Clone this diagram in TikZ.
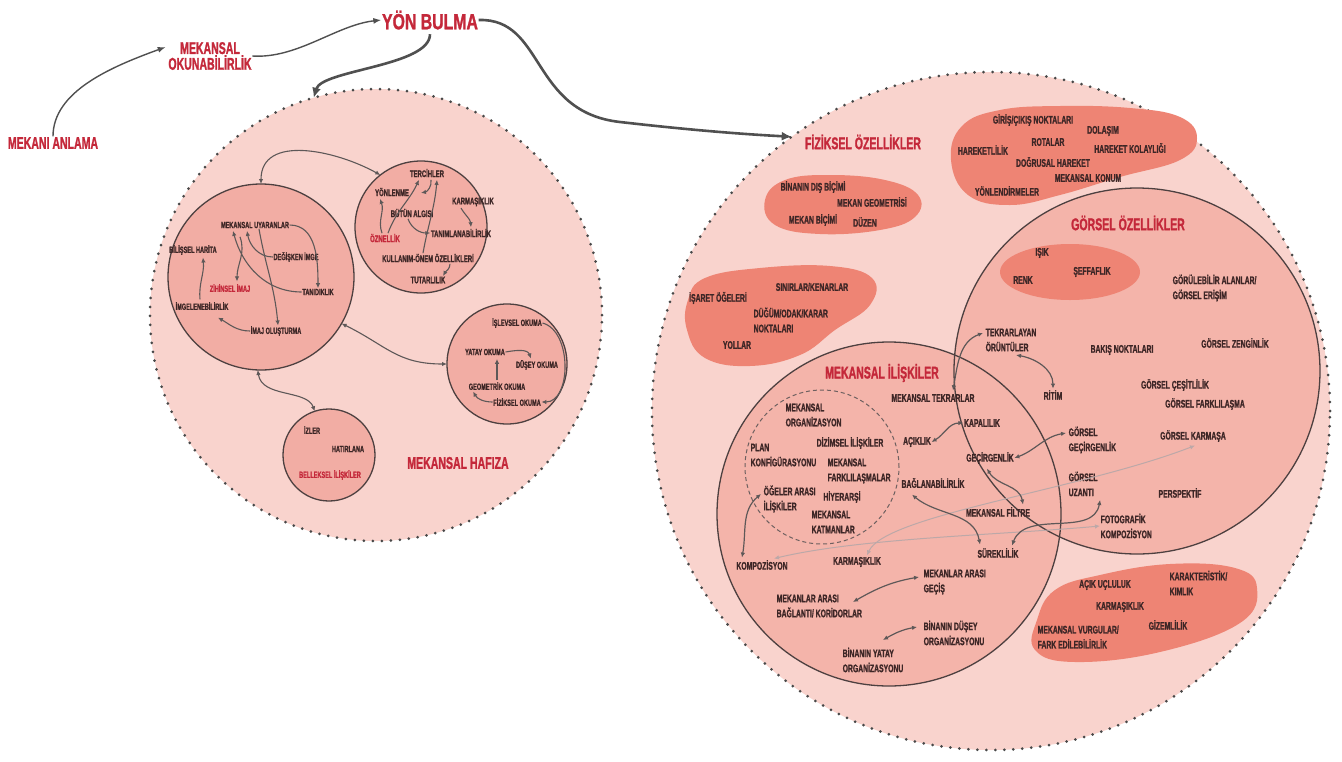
\documentclass[tikz,border=0pt]{standalone}
\usepackage{fontspec}
\newfontfamily\cf{Liberation Sans Bold}[FakeStretch=0.62, FakeBold=1.2]
\newfontfamily\tf{Liberation Sans Bold}[FakeStretch=0.72, FakeBold=1.2]
\usetikzlibrary{arrows.meta,calc}
\definecolor{bgp}{RGB}{249,211,205}
\definecolor{subp}{RGB}{242,173,164}
\definecolor{gcp}{RGB}{244,180,170}
\definecolor{blobc}{RGB}{238,132,116}
\definecolor{dotc}{RGB}{72,72,72}
\definecolor{bordc}{RGB}{77,64,64}
\definecolor{txt}{RGB}{61,38,38}
\definecolor{redt}{RGB}{196,40,58}
\definecolor{arr}{RGB}{94,88,88}
\definecolor{lightarr}{RGB}{188,168,168}
\definecolor{bigarr}{RGB}{80,80,80}
\definecolor{dashc}{RGB}{110,96,96}
\tikzset{
  t/.style={font=\cf\fontsize{11}{15}\selectfont, text=txt, inner sep=0.5pt, align=left},
  ts/.style={t, font=\cf\fontsize{9}{11}\selectfont},
  tsr/.style={ts, text=redt},
  tm/.style={t, font=\cf\fontsize{9.6}{11}\selectfont},
  tmr/.style={tm, text=redt},
  ttl/.style={font=\cf\fontsize{17}{14}\selectfont, text=redt, inner sep=0.5pt, align=center},
  dotcirc/.style={circle, inner sep=0pt, outer sep=0pt, fill=bgp, draw=dotc, line width=3pt, dash pattern=on 0pt off 9pt, line cap=round},
  subcirc/.style={circle, inner sep=0pt, outer sep=0pt, fill=subp, draw=bordc, line width=1.3pt},
  tipA/.tip={Latex[length=5pt,width=4.5pt]},
  a/.style={draw=arr, line width=1.1pt, -tipA},
  aa/.style={draw=arr, line width=1.2pt, tipA-tipA},
  la/.style={draw=lightarr, line width=1pt, tipA-tipA},
  a1/.style={draw=bigarr, line width=1.4pt, -{Latex[length=8pt,width=6pt]}},
  big/.style={draw=bigarr, line width=2.6pt, -{Latex[length=10pt,width=9pt]}},
  blob/.style={fill=blobc},
}
\begin{document}
\begin{tikzpicture}[x=1pt,y=-1pt]
\useasboundingbox (0,0) rectangle (1342,761);
\fill[white] (0,0) rectangle (1342,761);

% big dotted circles
\node[dotcirc, minimum size=452pt] (L) at (376,315) {};
\node[dotcirc, minimum size=678pt] (R) at (991,411) {};

% blobs of physical properties
\fill[blob] plot[smooth cycle, tension=0.7] coordinates {(951,160) (962,126) (1000,110) (1060,106) (1130,108) (1180,117) (1197,138) (1180,160) (1120,177) (1060,195) (1010,205) (968,195)};
\fill[blob] plot[smooth cycle, tension=0.7] coordinates {(765,200) (785,180) (830,175) (885,180) (918,195) (915,217) (880,230) (820,234) (775,225)};
\fill[blob] plot[smooth cycle, tension=0.7] coordinates {(688,300) (705,278) (760,268) (830,266) (872,278) (870,305) (835,330) (800,355) (750,366) (705,358) (687,330)};

% visual / spatial circles
\node[circle, inner sep=0pt, outer sep=0pt, minimum size=366pt, fill=gcp] (G) at (1137,371) {};
\node[circle, inner sep=0pt, outer sep=0pt, minimum size=344pt, fill=gcp] (M) at (889,514) {};
\fill[blob] (1070,272) ellipse [x radius=70, y radius=28];
\fill[blob] plot[smooth cycle, tension=0.7] coordinates {(1037,620) (1055,590) (1100,575) (1170,564) (1235,568) (1257,588) (1240,623) (1160,652) (1075,662) (1035,650)};
\draw[bordc, line width=1.3pt] (G.center) circle (183pt);
\draw[bordc, line width=1.3pt] (M.center) circle (172pt);
\node[circle, inner sep=0pt, minimum size=154pt, draw=dashc, line width=1pt, dash pattern=on 4pt off 3pt] (dc) at (822,467) {};

% left sub circles
\node[subcirc, minimum size=186pt] (c1) at (261,277) {};
\node[subcirc, minimum size=132pt] (c2) at (421,227) {};
\node[subcirc, minimum size=120pt] (c3) at (507,364) {};
\node[subcirc, minimum size=92pt] (c4) at (329,455) {};

% top titles
\node[ttl] (man) at (53,143) {MEKANI ANLAMA};
\node[ttl] (mok) at (210,56) {MEKANSAL\\OKUNABİLİRLİK};
\node[ttl, font=\tf\fontsize{22}{22}\selectfont] (yb) at (430,20) {YÖN BULMA};
\draw[a1] (man.north) .. controls +(0,-45) and +(-55,20) .. ($(mok.west)+(-2,-9)$);
\draw[a1] (mok.east) .. controls +(45,3) and +(-45,5) .. (yb.west);
\draw[big] ($(yb.south)+(0,4)$) .. controls +(0,32) and +(8,-28) .. (L.106);
\draw[big] (yb.east) .. controls (545,18) and (530,112) .. (620,122) .. controls (690,130) and (740,134) .. (R.126);

% circle 1
\node[ts] (mu) at (255,225) {MEKANSAL UYARANLAR};
\node[ts] (bh) at (193,250) {BİLİŞSEL HARİTA};
\node[ts] (di) at (296,257) {DEĞİŞKEN İMGE};
\node[tsr] (zi) at (230,288) {ZİHİNSEL İMAJ};
\node[ts] (ta) at (318,292) {TANIDIKLIK};
\node[ts] (im) at (202,306) {İMGELENEBİLİRLİK};
\node[ts] (io) at (276,331) {İMAJ OLUŞTURMA};
\draw[a] (mu.east) to[out=0,in=90] (ta.north);
\draw[a] (di.west) to[out=180,in=-80] ($(mu.south)+(-8,2)$);
\draw[a] ($(mu.south)+(4,0)$) to[out=-80,in=95] ($(io.north)+(2,0)$);
\draw[a] (ta.west) to[out=180,in=-75] ($(mu.south)+(-22,2)$);
\draw[a] ($(mu.south)+(-15,8)$) to[out=-70,in=90] ($(zi.north)+(7,-2)$);
\draw[a] ($(im.north)+(-2,-2)$) to[out=95,in=-85] ($(bh.south)+(10,2)$);
\draw[a] (io.west) to[out=180,in=-30] ($(im.south)+(16,7)$);

% circle 2
\node[tm] (te) at (427,173) {TERCİHLER};
\node[tm] (yo) at (392,192) {YÖNLENME};
\node[tm] (ka) at (473,202) {KARMAŞIKLIK};
\node[tm] (bu) at (412,213) {BÜTÜN ALGISI};
\node[tmr] (oz) at (385,238) {ÖZNELLİK};
\node[tm] (tn) at (461,233) {TANIMLANABİLİRLİK};
\node[tm] (ku) at (428,258) {KULLANIM-ÖNEM ÖZELLİKLERİ};
\node[tm] (tu) at (428,280) {TUTARLILIK};
\draw[a] ($(oz.north)+(-3,0)$) to[out=110,in=-70] ($(yo.south)+(-12,2)$);
\draw[a] ($(oz.north)+(3,0)$) to[out=70,in=-115] ($(te.south)+(-8,2)$);
\draw[a] ($(te.south)+(4,2)$) to[out=-80,in=10] ($(te.south)+(-6,15)$);
\draw[a] ($(ku.north)+(-5,0)$) to[out=80,in=-95] ($(te.south)+(10,2)$);
\draw[a] ($(bu.south)+(-4,1)$) to[out=-70,in=180] (tn.west);
\draw[a] ($(ka.south)+(-12,1)$) to[out=-60,in=95] ($(tn.north)+(10,-1)$);
\draw[a] ($(ku.south)+(22,1)$) to[out=-90,in=60] ($(tu.north)+(15,0)$);
\draw[aa, line width=1.1pt] (c1.north) .. controls +(0,-50) and +(-45,-25) .. (c2.128);

% circle 3
\node[ts] (il) at (517,323) {İŞLEVSEL OKUMA};
\node[ts] (ya) at (485,352) {YATAY OKUMA};
\node[ts] (du) at (537,365) {DÜŞEY OKUMA};
\node[ts] (ge) at (497,386) {GEOMETRİK OKUMA};
\node[ts] (fi) at (517,402) {FİZİKSEL OKUMA};
\draw[a] (ya.east) to[out=10,in=110] ($(du.north)+(-6,-1)$);
\draw[a] ($(ge.north)+(0,-1)$) -- ($(ya.south)+(12,3)$);
\draw[a] (fi.west) to[out=180,in=-60] ($(ge.south west)+(5,1)$);
\draw[a] (il.east) .. controls +(30,8) and +(30,0) .. (fi.east);
\draw[aa, line width=1.1pt] (c1.-30) .. controls +(45,22) and +(-50,0) .. (c3.west);

% circle 4
\node[ts] (iz) at (312,430) {İZLER};
\node[ts] (ha) at (348,449) {HATIRLANA};
\node[tsr] (be) at (330,475) {BELLEKSEL İLİŞKİLER};
\draw[aa, line width=1.1pt] (c1.-92) .. controls +(4,28) and +(-8,-22) .. (c4.108);
\node[ttl] (mh) at (458,463) {MEKANSAL HAFIZA};

% physical properties
\node[ttl] (fo) at (863,142) {FİZİKSEL ÖZELLİKLER};
\node[t] (gc) at (1033,120) {GİRİŞ/ÇIKIŞ NOKTALARI};
\node[t] (dl) at (1103,131) {DOLAŞIM};
\node[t] (ro) at (1048,142) {ROTALAR};
\node[t] (hk) at (983,150) {HAREKETLİLİK};
\node[t] (hko) at (1130,148) {HAREKET KOLAYLIĞI};
\node[t] (dh) at (1053,162) {DOĞRUSAL HAREKET};
\node[t] (mk) at (1088,178) {MEKANSAL KONUM};
\node[t] (yl) at (1007,191) {YÖNLENDİRMELER};
\node[t] (bd) at (813,187) {BİNANIN DIŞ BİÇİMİ};
\node[t] (mg) at (872,202) {MEKAN GEOMETRİSİ};
\node[t] (mb) at (813,220) {MEKAN BİÇİMİ};
\node[t] (dz) at (865,222) {DÜZEN};
\node[t] (sk) at (812,287) {SINIRLAR/KENARLAR};
\node[t] (io3) at (718,298) {İŞARET ÖĞELERİ};
\node[t, anchor=west] (dok) at (753,320) {DÜĞÜM/ODAK/KARAR\\NOKTALARI};
\node[t] (yol) at (737,345) {YOLLAR};

% visual properties
\node[ttl] (go) at (1128,223) {GÖRSEL ÖZELLİKLER};
\node[t] (isik) at (1042,253) {IŞIK};
\node[t] (renk) at (1023,280) {RENK};
\node[t] (sef) at (1092,272) {ŞEFFAFLIK};
\node[t, anchor=west] (ga) at (1172,288) {GÖRÜLEBİLİR ALANLAR/\\GÖRSEL ERİŞİM};
\node[t, anchor=west] (tk) at (985,340) {TEKRARLAYAN\\ÖRÜNTÜLER};
\node[t] (bn) at (1122,350) {BAKIŞ NOKTALARI};
\node[t] (gz) at (1235,343) {GÖRSEL ZENGİNLİK};
\node[t] (rt) at (1053,395) {RİTİM};
\node[t] (gcs) at (1175,385) {GÖRSEL ÇEŞİTLİLİK};
\node[t] (gf) at (1205,404) {GÖRSEL FARKLILAŞMA};
\node[t] (gk) at (1193,436) {GÖRSEL KARMAŞA};
\node[t] (pe) at (1180,493) {PERSPEKTİF};
\node[t, anchor=west] (fk) at (1100,526) {FOTOGRAFİK\\KOMPOZİSYON};
\node[t, anchor=west] (gg) at (1068,440) {GÖRSEL\\GEÇİRGENLİK};
\node[t, anchor=west] (gu) at (1068,484) {GÖRSEL\\UZANTI};

% spatial relations
\node[ttl] (mi) at (882,373) {MEKANSAL İLİŞKİLER};
\node[t, anchor=west] (mo) at (785,415) {MEKANSAL\\ORGANİZASYON};
\node[t] (dis) at (850,443) {DİZİMSEL İLİŞKİLER};
\node[t, anchor=west] (pk) at (750,455) {PLAN\\KONFİGÜRASYONU};
\node[t, anchor=west] (mf) at (827,471) {MEKANSAL\\FARKLILAŞMALAR};
\node[t, anchor=west] (oa) at (763,499) {ÖĞELER ARASI\\İLİŞKİLER};
\node[t] (hy) at (842,497) {HİYERARŞİ};
\node[t, anchor=west] (mkat) at (811,522) {MEKANSAL\\KATMANLAR};
\node[t] (ac) at (917,442) {AÇIKLIK};
\node[t] (bag) at (933,483) {BAĞLANABİLİRLİK};
\node[t] (mt) at (933,398) {MEKANSAL TEKRARLAR};
\node[t] (kp) at (982,423) {KAPALILIK};
\node[t] (gec) at (990,458) {GEÇİRGENLİK};
\node[t] (mfi) at (998,512) {MEKANSAL FİLTRE};
\node[t] (sur) at (998,553) {SÜREKLİLİK};
\node[t] (komp) at (762,565) {KOMPOZİSYON};
\node[t] (karm) at (857,562) {KARMAŞIKLIK};
\node[t, anchor=west] (mag) at (923,582) {MEKANLAR ARASI\\GEÇİŞ};
\node[t, anchor=west] (mab) at (776,606) {MEKANLAR ARASI\\BAĞLANTI/ KORİDORLAR};
\node[t, anchor=west] (bdu) at (923,633) {BİNANIN DÜŞEY\\ORGANİZASYONU};
\node[t, anchor=west] (bya) at (842,660) {BİNANIN YATAY\\ORGANİZASYONU};

% bottom-right blob
\node[t] (au) at (1105,585) {AÇIK UÇLULUK};
\node[t, anchor=west] (kk) at (1169,583) {KARAKTERİSTİK/\\KIMLIK};
\node[t] (krm) at (1120,607) {KARMAŞIKLIK};
\node[t] (gzm) at (1168,625) {GİZEMLİLİK};
\node[t, anchor=west] (mv) at (1037,637) {MEKANSAL VURGULAR/\\FARK EDİLEBİLİRLİK};

% connectors right
\draw[la] ($(komp.north)+(12,-1)$) .. controls (860,538) and (1000,535) .. (fk.west);
\draw[la] ($(karm.north)+(10,-1)$) .. controls (885,515) and (1080,490) .. ($(gk.south)+(2,3)$);
\draw[aa] ($(tk.west)+(-2,-7)$) to[out=200,in=80] ($(mt.north)+(20,-3)$);
\draw[aa] ($(tk.south)+(5,3)$) to[out=-10,in=90] ($(rt.north)+(0,-1)$);
\draw[aa] (ac.east) to[out=30,in=180] (kp.west);
\draw[aa] ($(gg.west)+(-2,-7)$) to[out=190,in=20] (gec.east);
\draw[aa] ($(gec.south)+(-3,4)$) to[out=-60,in=100] ($(mfi.north)+(25,-2)$);
\draw[aa] ($(bag.south)+(-21,6)$) to[out=-40,in=100] ($(sur.north)+(-18,-3)$);
\draw[aa] ($(gu.south)+(17,3)$) to[out=-100,in=70] ($(sur.north)+(14,-2)$);
\draw[aa] ($(oa.west)+(-2,-5)$) to[out=220,in=80] ($(komp.north)+(-20,-2)$);
\draw[aa] ($(mag.west)+(-4,-5)$) to[out=190,in=30] ($(mab.west)+(77,-4)$);
\draw[aa] ($(bdu.west)+(-6,-6)$) to[out=190,in=30] ($(bya.west)+(41,-20)$);
\end{tikzpicture}
\end{document}
